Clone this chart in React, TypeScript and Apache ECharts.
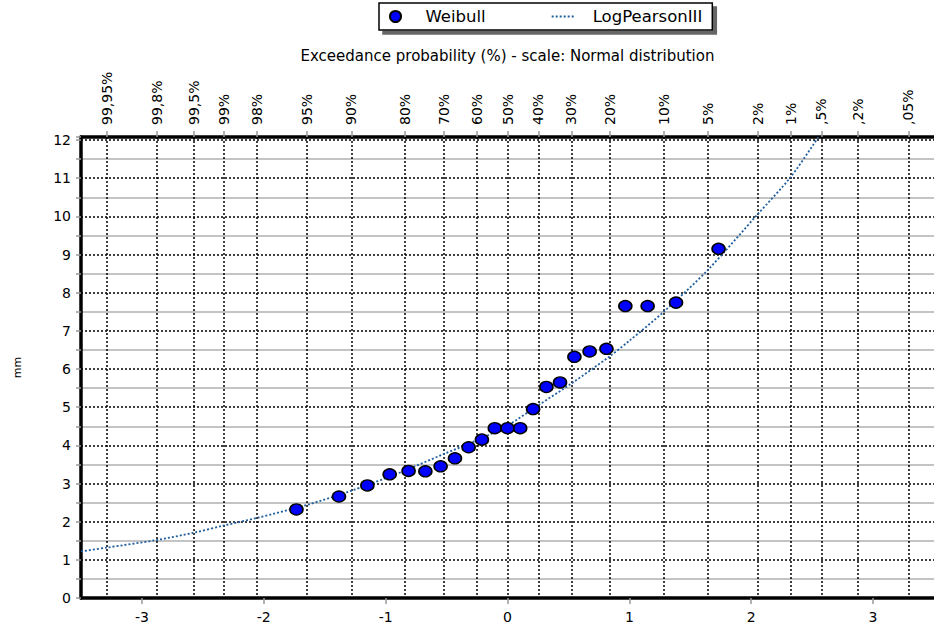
import React, { useEffect, useRef } from 'react';
import * as echarts from 'echarts';

// Top axis: exceedance probability ticks (normal-score positions) and their labels
const probTickZ = [-3.29, -2.878, -2.576, -2.326, -2.054, -1.645, -1.282, -0.842, -0.524, -0.253, 0, 0.253, 0.524, 0.842, 1.282, 1.645, 2.054, 2.326, 2.576, 2.878, 3.29];
const probTickLabels = ['99,95%', '99,8%', '99,5%', '99%', '98%', '95%', '90%', '80%', '70%', '60%', '50%', '40%', '30%', '20%', '10%', '5%', '2%', '1%', ',5%', ',2%', ',05%'];

// Bottom axis ticks (standard normal variate)
const bottomTicks = [-3, -2, -1, 0, 1, 2, 3];

// Weibull plotting positions (z) and observed values (mm)
const weibullZ = [-1.732, -1.383, -1.15, -0.967, -0.812, -0.674, -0.549, -0.431, -0.319, -0.21, -0.104, 0, 0.104, 0.21, 0.319, 0.431, 0.549, 0.674, 0.812, 0.967, 1.15, 1.383, 1.732];
const weibullMM = [2.32, 2.66, 2.95, 3.24, 3.33, 3.32, 3.45, 3.66, 3.95, 4.15, 4.45, 4.45, 4.45, 4.95, 5.53, 5.65, 6.32, 6.46, 6.53, 7.65, 7.65, 7.74, 9.15];

// Fitted LogPearsonIII curve
const lp3Z = [-3.5, -3.29, -2.878, -2.576, -2.326, -2.054, -1.645, -1.282, -1.0, -0.842, -0.524, -0.253, 0, 0.253, 0.524, 0.842, 1.0, 1.282, 1.645, 2.054, 2.326, 2.576];
const lp3MM = [1.22, 1.32, 1.52, 1.71, 1.9, 2.1, 2.44, 2.81, 3.14, 3.34, 3.77, 4.13, 4.52, 5.05, 5.62, 6.34, 6.74, 7.5, 8.6, 10.06, 11.04, 12.2];

const FONT = 'DejaVu Sans';
const CURVE_COLOR = '#1f5f9f';

export default function App() {
  const ref = useRef<HTMLDivElement>(null);

  useEffect(() => {
    document.body.style.margin = '0';
    const chart = echarts.init(ref.current as HTMLDivElement, null, { renderer: 'svg' });

    const labelFor = (v: number) => {
      let best = 0;
      let bd = Infinity;
      probTickZ.forEach((z, i) => {
        const d = Math.abs(z - v);
        if (d < bd) { bd = d; best = i; }
      });
      return probTickLabels[best];
    };

    chart.setOption({
      animation: false,
      backgroundColor: '#ffffff',
      textStyle: { fontFamily: FONT },
      legend: {
        left: 379,
        top: 3,
        orient: 'horizontal',
        padding: [5, 10, 5, 10],
        itemWidth: 22,
        itemHeight: 11,
        itemGap: 65,
        backgroundColor: '#ffffff',
        borderColor: '#000000',
        borderWidth: 1.5,
        shadowColor: '#666666',
        shadowBlur: 0,
        shadowOffsetX: 4,
        shadowOffsetY: 4,
        textStyle: { fontFamily: FONT, fontSize: 16.5, color: '#000', padding: [0, 0, 0, 14] },
        data: [
          { name: 'Weibull', icon: 'circle' },
          { name: 'LogPearsonIII', itemStyle: { color: 'rgba(0,0,0,0)', borderColor: 'rgba(0,0,0,0)', borderWidth: 0 } },
        ],
      },
      grid: { left: 81, right: -13, top: 137, bottom: 31, containLabel: false },
      xAxis: [
        {
          type: 'value',
          position: 'bottom',
          min: -3.5,
          max: 3.5,
          axisLine: { show: true, onZero: false, lineStyle: { color: '#000', width: 3.5 } },
          axisTick: { show: true, customValues: bottomTicks, length: 6, lineStyle: { color: '#999', width: 1.5 } },
          axisLabel: { customValues: bottomTicks, fontFamily: FONT, fontSize: 14, color: '#000', margin: 12 },
          splitLine: { show: false },
        },
        {
          type: 'value',
          position: 'top',
          min: -3.5,
          max: 3.5,
          axisLine: { show: true, onZero: false, lineStyle: { color: '#000', width: 3.5 } },
          axisTick: { show: true, customValues: probTickZ, length: 6, lineStyle: { color: '#999', width: 1.5 } },
          axisLabel: {
            customValues: probTickZ,
            rotate: -90,
            fontFamily: FONT,
            fontSize: 14,
            color: '#000',
            margin: 12,
            formatter: (v: number) => labelFor(v),
          },
          splitLine: { show: true, lineStyle: { color: '#000', type: [2, 2], width: 1.5 } },
          name: 'Exceedance probability (%) - scale: Normal distribution',
          nameLocation: 'middle',
          nameGap: 70,
          nameTextStyle: { fontFamily: FONT, fontSize: 15, color: '#000' },
        },
      ],
      yAxis: {
        type: 'value',
        min: 0,
        max: 12.08,
        interval: 1,
        axisLine: { show: true, onZero: false, lineStyle: { color: '#000', width: 3.5 } },
        axisTick: { show: true, length: 5, lineStyle: { color: '#999', width: 1.5 } },
        minorTick: { show: true, splitNumber: 2, length: 5, lineStyle: { color: '#999', width: 1.5 } },
        axisLabel: {
          fontFamily: FONT,
          fontSize: 14,
          color: '#000',
          margin: 10,
          formatter: (v: number) => (Math.abs(v - Math.round(v)) < 1e-6 ? String(Math.round(v)) : ''),
        },
        splitLine: { show: true, lineStyle: { color: '#000', type: [2, 2], width: 1.5 } },
        minorSplitLine: { show: true, lineStyle: { color: '#b0b0b0', width: 1.5 } },
        name: 'mm',
        nameLocation: 'middle',
        nameGap: 58,
        nameTextStyle: { fontFamily: FONT, fontSize: 11, color: '#000' },
      },
      series: [
        {
          type: 'scatter',
          name: 'Weibull',
          xAxisIndex: 0,
          data: weibullZ.map((z, i) => [z, weibullMM[i]]),
          symbol: 'circle',
          symbolSize: [13, 11],
          itemStyle: { color: '#0000ff', borderColor: '#000', borderWidth: 1.5, opacity: 1 },
          z: 4,
        },
        {
          type: 'line',
          name: 'LogPearsonIII',
          xAxisIndex: 0,
          data: lp3Z.map((z, i) => [z, lp3MM[i]]),
          showSymbol: false,
          symbol: 'none',
          smooth: 0.3,
          lineStyle: { color: CURVE_COLOR, width: 1.8, type: [2, 2] },
          itemStyle: { color: CURVE_COLOR },
          z: 3,
        },
      ],
    });

    return () => chart.dispose();
  }, []);

  return <div ref={ref} style={{ width: 934, height: 629 }} />;
}
